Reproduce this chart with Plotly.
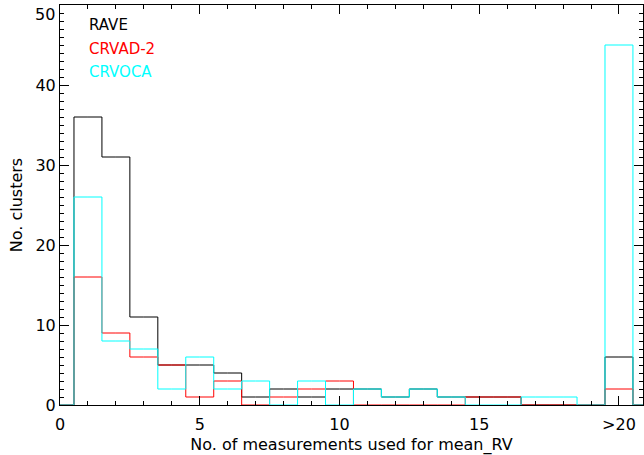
import plotly.graph_objects as go

# bin centres 0..21 (0 and 21 are empty padding bins, 20 is ">20")
bins = list(range(0, 22))
rave   = [0, 36, 31, 11, 5, 5, 4, 1, 2, 1, 2, 2, 1, 2, 1, 1, 1, 0, 0, 0, 6, 0]
crvad2 = [0, 16, 9, 6, 5, 1, 3, 0, 1, 2, 3, 0, 0, 0, 0, 1, 1, 0, 0, 0, 2, 0]
crvoca = [0, 26, 8, 7, 2, 6, 2, 3, 0, 3, 0, 2, 1, 2, 1, 0, 0, 1, 1, 0, 45, 0]

names = ["RAVE", "CRVAD-2", "CRVOCA"]
colors = ["#000000", "#ff0000", "#00ffff"]
series = [rave, crvad2, crvoca]

xtick_vals = [0, 5, 10, 15, 20]
xtick_text = ["0", "5", "10", "15", ">20"]
ytick_vals = [0, 10, 20, 30, 40]
ytop_label = 50

font_family = "DejaVu Sans"

fig = go.Figure()
for n, c, s in zip(names, colors, series):
    fig.add_trace(go.Scatter(x=bins, y=s, mode="lines", name=n,
                             line=dict(color=c, width=1, shape="hvh"),
                             showlegend=False))

for i, (n, c) in enumerate(zip(names, colors)):
    fig.add_annotation(x=0.047, y=0.95 - i * 0.059, xref="paper", yref="paper",
                       text=n, showarrow=False, xanchor="left", yanchor="middle",
                       font=dict(family=font_family, size=15, color=c))

# top y label, kept inside the window as in the original
fig.add_annotation(x=0, y=ytop_label, xref="paper", yref="y", text=str(ytop_label),
                   showarrow=False, xanchor="right", yanchor="top", xshift=-3,
                   yshift=2, font=dict(family=font_family, size=16, color="black"))

fig.update_layout(
    width=644, height=455,
    margin=dict(l=60, r=1, t=5, b=50),
    paper_bgcolor="white", plot_bgcolor="white",
    font=dict(family=font_family, size=15, color="black"),
    xaxis=dict(range=[0, 20.86], tickvals=xtick_vals, ticktext=xtick_text,
               ticks="inside", ticklen=9, tickwidth=1, tickcolor="black",
               showline=True, linecolor="black", linewidth=1, mirror="ticks",
               showgrid=False, zeroline=False, ticklabelstandoff=5,
               minor=dict(dtick=1, tick0=0, ticks="inside", ticklen=4,
                          tickcolor="black", tickwidth=1, showgrid=False),
               title=dict(text="No. of measurements used for mean_RV",
                          font=dict(size=16), standoff=6),
               tickfont=dict(size=16)),
    yaxis=dict(range=[0, 50], tickvals=ytick_vals,
               ticks="inside", ticklen=9, tickwidth=1, tickcolor="black",
               showline=True, linecolor="black", linewidth=1, mirror="ticks",
               showgrid=False, zeroline=False,
               minor=dict(dtick=1, tick0=0, ticks="inside", ticklen=4,
                          tickcolor="black", tickwidth=1, showgrid=False),
               title=dict(text="No. clusters", font=dict(size=16), standoff=8),
               tickfont=dict(size=16)),
)

fig.write_html("out.html")
